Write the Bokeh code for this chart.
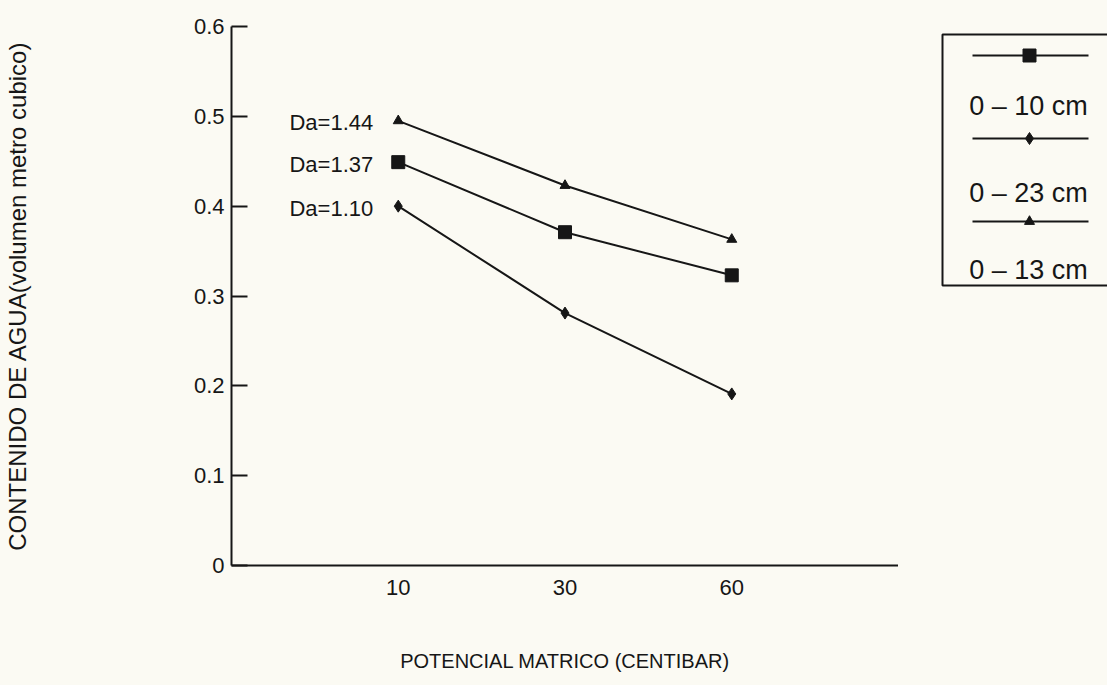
from bokeh.plotting import figure
from bokeh.layouts import row
from bokeh.models import Range1d, FixedTicker, CustomJSTickFormatter
from bokeh.core.properties import value
from bokeh.embed import file_html
from bokeh.resources import INLINE

# ---- data ----
potencial = ["10", "30", "60"]                       # x categories (centibar)
series_names = ["0 – 10 cm", "0 – 23 cm", "0 – 13 cm"]
da_labels = ["Da=1.37", "Da=1.10", "Da=1.44"]
agua_0_10 = [0.449, 0.371, 0.323]
agua_0_23 = [0.400, 0.281, 0.191]
agua_0_13 = [0.495, 0.423, 0.363]
y_ticks = [0, 0.1, 0.2, 0.3, 0.4, 0.5, 0.6]

series_values = [agua_0_10, agua_0_23, agua_0_13]

# ---- styles ----
INK = "#161616"
BG = "#fbfaf3"
FONT = "Liberation Sans"
markers = ["square", "diamond", "triangle"]
marker_sizes = [13, 12, 10]

TOP, BOTTOM_BORDER, HEIGHT = 26, 120, 685
FRAME_BOTTOM = HEIGHT - BOTTOM_BORDER

xpos = [i + 1 for i in range(len(potencial))]

p = figure(width=898, height=HEIGHT, x_range=Range1d(0, 4), y_range=Range1d(0, 0.6),
           toolbar_location=None, output_backend="svg",
           min_border_left=230, min_border_right=0, min_border_top=TOP,
           min_border_bottom=BOTTOM_BORDER,
           background_fill_color=BG, border_fill_color=BG)
p.outline_line_color = None
p.grid.visible = False

for vals, mk, ms, da in zip(series_values, markers, marker_sizes, da_labels):
    p.line(xpos, vals, line_color=INK, line_width=2)
    p.scatter(xpos, vals, marker=mk, size=ms, fill_color=INK, line_color=INK)
    p.text([xpos[0]], [vals[0]], text=[da], text_align="right", text_baseline="middle",
           x_offset=-25, y_offset=2, text_font=value(FONT), text_font_size="22px",
           text_color=INK)

# y axis
ya = p.yaxis[0]
ya.ticker = FixedTicker(ticks=y_ticks)
ya.formatter = CustomJSTickFormatter(code="return tick == 0 ? '0' : tick.toFixed(1);")
ya.major_tick_in = 16
ya.major_tick_out = 0
ya.minor_tick_in = 0
ya.minor_tick_out = 0
ya.axis_line_width = 2
ya.major_tick_line_width = 2
ya.axis_line_color = INK
ya.major_tick_line_color = INK
ya.major_label_standoff = 7
ya.major_label_text_font = FONT
ya.major_label_text_font_size = "22px"
ya.major_label_text_color = INK
ya.axis_label = "CONTENIDO DE AGUA(volumen metro cubico)"
ya.axis_label_text_font = FONT
ya.axis_label_text_font_size = "24px"
ya.axis_label_text_font_style = "normal"
ya.axis_label_text_color = INK
ya.axis_label_standoff = 160

# x axis
xa = p.xaxis[0]
xa.ticker = FixedTicker(ticks=xpos)
xa.major_label_overrides = {x: lab for x, lab in zip(xpos, potencial)}
xa.major_tick_in = 0
xa.major_tick_out = 0
xa.minor_tick_in = 0
xa.minor_tick_out = 0
xa.axis_line_width = 2
xa.axis_line_color = INK
xa.major_label_standoff = 14
xa.major_label_text_font = FONT
xa.major_label_text_font_size = "22px"
xa.major_label_text_color = INK
xa.axis_label = "POTENCIAL MATRICO (CENTIBAR)"
xa.axis_label_text_font = FONT
xa.axis_label_text_font_size = "20px"
xa.axis_label_text_font_style = "normal"
xa.axis_label_text_color = INK
xa.axis_label_standoff = 52

# ---- legend panel (layout in page-pixel units; frame aligned with main frame) ----
leg = figure(width=209, height=HEIGHT, x_range=Range1d(0, 209),
             y_range=Range1d(FRAME_BOTTOM, TOP),
             toolbar_location=None, output_backend="svg",
             x_axis_location=None, y_axis_location=None,
             min_border_left=0, min_border_right=0, min_border_top=TOP,
             min_border_bottom=BOTTOM_BORDER,
             background_fill_color=BG, border_fill_color=BG)
leg.outline_line_color = None
leg.grid.visible = False

leg.quad(left=[44], right=[222], top=[34], bottom=[285], fill_color=None,
         line_color=INK, line_width=2)
line_rows = [55, 138, 221]
text_rows = [105, 192, 269]
for name, mk, ms, ly, ty in zip(series_names, markers, marker_sizes, line_rows, text_rows):
    leg.line([74, 190], [ly, ly], line_color=INK, line_width=2)
    leg.scatter([131], [ly], marker=mk, size=ms, fill_color=INK, line_color=INK)
    leg.text([130], [ty], text=[name], text_align="center", text_baseline="middle",
             text_font=value(FONT), text_font_size="27px", text_color=INK)

layout = row(p, leg, styles={"background-color": BG})
open("out.html", "w").write(file_html(layout, INLINE))
